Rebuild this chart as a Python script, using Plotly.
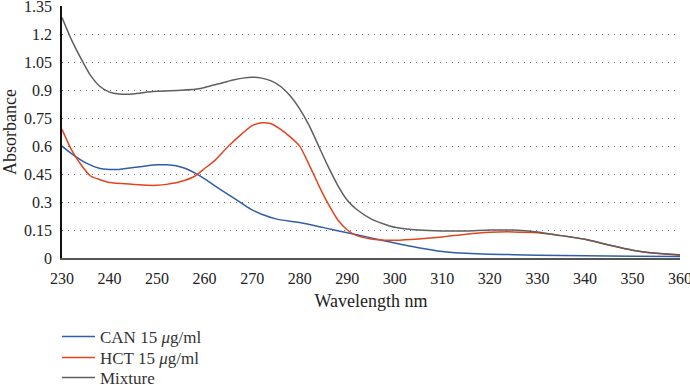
import plotly.graph_objects as go

wl_can = [230, 232, 235, 238, 240, 242, 245, 248, 250, 252, 254, 256, 258, 260, 262, 265, 268, 270, 272, 275, 278, 280, 285, 290, 295, 300, 305, 310, 315, 320, 325, 330, 340, 350, 360]
can = [0.60, 0.56, 0.51, 0.48, 0.475, 0.475, 0.485, 0.495, 0.50, 0.50, 0.495, 0.48, 0.455, 0.425, 0.39, 0.34, 0.29, 0.258, 0.235, 0.21, 0.197, 0.19, 0.163, 0.135, 0.108, 0.08, 0.055, 0.035, 0.025, 0.02, 0.018, 0.015, 0.012, 0.01, 0.008]

wl_hct = [230, 232, 234, 236, 238, 240, 245, 248, 250, 252, 255, 258, 260, 262, 265, 268, 270, 272, 274, 276, 278, 280, 282, 284, 286, 288, 290, 292, 295, 298, 300, 305, 310, 315, 320, 325, 330, 335, 340, 345, 350, 355, 360]
hct = [0.69, 0.58, 0.50, 0.44, 0.42, 0.405, 0.395, 0.39, 0.39, 0.395, 0.41, 0.44, 0.48, 0.52, 0.60, 0.67, 0.71, 0.725, 0.72, 0.69, 0.65, 0.60, 0.50, 0.39, 0.29, 0.205, 0.15, 0.12, 0.102, 0.095, 0.095, 0.102, 0.113, 0.128, 0.138, 0.14, 0.135, 0.12, 0.10, 0.07, 0.042, 0.025, 0.015]

wl_mix = [230, 232, 234, 236, 238, 240, 242, 245, 248, 250, 255, 258, 260, 263, 266, 268, 270, 272, 274, 276, 278, 280, 282, 284, 286, 288, 290, 292, 295, 298, 300, 305, 310, 315, 320, 325, 330, 335, 340, 345, 350, 355, 360]
mix = [1.29, 1.17, 1.07, 0.98, 0.92, 0.89, 0.88, 0.88, 0.89, 0.895, 0.90, 0.905, 0.915, 0.935, 0.955, 0.965, 0.97, 0.965, 0.95, 0.92, 0.87, 0.80, 0.71, 0.60, 0.49, 0.39, 0.31, 0.26, 0.21, 0.18, 0.165, 0.15, 0.145, 0.145, 0.15, 0.15, 0.14, 0.12, 0.10, 0.07, 0.042, 0.025, 0.018]

names = ["CAN 15 <i>μ</i>g/ml", "HCT 15 <i>μ</i>g/ml", "Mixture"]
colors = ["#2f5ea8", "#e0451f", "#5f5f5f"]

x_ticks = list(range(230, 361, 10))
y_ticks = [0, 0.15, 0.3, 0.45, 0.6, 0.75, 0.9, 1.05, 1.2, 1.35]
y_labels = ["0", "0.15", "0.3", "0.45", "0.6", "0.75", "0.9", "1.05", "1.2", "1.35"]

fam = "Liberation Serif"
legend_ids = ["legend", "legend2", "legend3"]
legend_ys = [-0.313, -0.397, -0.476]

fig = go.Figure()
for xs, ys, n, c, lg in [(wl_can, can, names[0], colors[0], legend_ids[0]),
                         (wl_hct, hct, names[1], colors[1], legend_ids[1]),
                         (wl_mix, mix, names[2], colors[2], legend_ids[2])]:
    fig.add_trace(go.Scatter(x=xs, y=ys, name=n, mode="lines", legend=lg,
                             line=dict(color=c, width=1.5, shape="spline", smoothing=0.6)))

leg_common = dict(x=-0.0081, xanchor="left", yanchor="middle", orientation="v",
                  font=dict(family=fam, size=17, color="#333"),
                  itemwidth=33, bgcolor="rgba(0,0,0,0)")
fig.update_layout(
    width=690, height=385,
    margin=dict(l=62, r=10, t=6, b=127, autoexpand=False),
    paper_bgcolor="white", plot_bgcolor="white",
    font=dict(family=fam, size=16, color="#222"),
    showlegend=True,
    legend=dict(y=legend_ys[0], **leg_common),
    legend2=dict(y=legend_ys[1], **leg_common),
    legend3=dict(y=legend_ys[2], **leg_common),
)
fig.update_xaxes(range=[230, 360], tickvals=x_ticks, showgrid=False, zeroline=False,
                 showline=True, linecolor="#555", linewidth=1.5,
                 ticks="outside", ticklen=5, tickcolor="rgba(0,0,0,0)",
                 ticklabeloverflow="allow",
                 title=dict(text="Wavelength nm", font=dict(family=fam, size=18), standoff=8),
                 tickfont=dict(family=fam, size=16))
fig.update_yaxes(range=[0, 1.352], tickvals=y_ticks, ticktext=y_labels, showgrid=True,
                 gridcolor="#777", griddash="1px,5px", gridwidth=1, zeroline=False,
                 showline=True, linecolor="#111", linewidth=1.5,
                 ticks="outside", ticklen=5, tickcolor="rgba(0,0,0,0)",
                 ticklabeloverflow="allow",
                 title=dict(text="Absorbance", font=dict(family=fam, size=18), standoff=8),
                 tickfont=dict(family=fam, size=16))
fig.write_html("out.html", config={"displayModeBar": False},
               post_script="document.body.style.margin='0';document.body.style.padding='0';")
